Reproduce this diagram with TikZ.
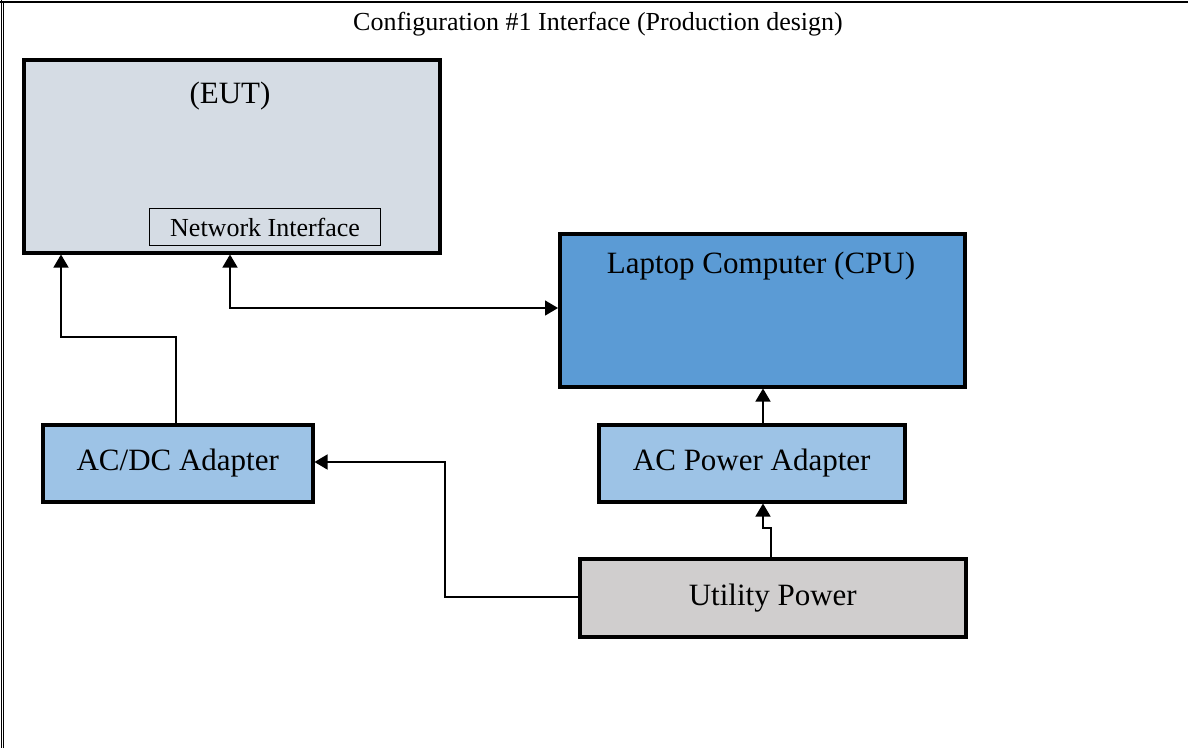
\documentclass[tikz,border=0pt]{standalone}
\usepackage{fontspec}
\setmainfont{Liberation Serif}
\usetikzlibrary{arrows.meta}
\definecolor{eutfill}{HTML}{D5DCE4}
\definecolor{cpufill}{HTML}{5B9BD5}
\definecolor{adfill}{HTML}{9DC3E6}
\definecolor{utfill}{HTML}{D0CECE}
\tikzset{
  blk/.style={draw=black, line width=3.5pt, inner sep=0pt},
  big/.style={font=\fontsize{31}{34}\selectfont},
  tip/.style={-{Triangle[length=13pt,width=15pt]}},
  conn/.style={draw=black, line width=1.4pt, tip},
}
\begin{document}
\begin{tikzpicture}[x=1pt,y=-1pt]
\useasboundingbox (0,0) rectangle (1188,748);
\fill[white] (0,0) rectangle (1188,748);
% outer frame
\draw[line width=2.5pt] (0,2) -- (1188,2);
\draw[line width=0.7pt] (1,0) -- (1,748);
\draw[line width=0.7pt] (3.5,2) -- (3.5,748);
\node[font=\fontsize{26}{28}\selectfont] (title) at (598,24) {Configuration \#1 Interface (Production design)};
% boxes
\node[blk, fill=eutfill, minimum width=416, minimum height=193, anchor=north west] (eut) at (22,58) {};
\node[big] (eutlabel) at (230,96) {(EUT)};
\node[draw=black, line width=1.2pt, fill=eutfill, minimum width=231, minimum height=37, anchor=north west, inner sep=0pt, font=\fontsize{26}{28}\selectfont] (ni) at (149,208) {Network Interface};
\node[blk, fill=cpufill, minimum width=405, minimum height=153, anchor=north west] (cpu) at (558,232) {};
\node[big] (cpulabel) at (761,266) {Laptop Computer (CPU)};
\node[blk, fill=adfill, minimum width=270, minimum height=77, anchor=north west, big] (acdc) at (41,423) {AC/DC Adapter};
\node[blk, fill=adfill, minimum width=306, minimum height=77, anchor=north west, big] (acp) at (597,423) {AC Power Adapter};
\node[blk, fill=utfill, minimum width=386, minimum height=78, anchor=north west, big] (ut) at (578,557) {Utility Power};
% connectors
\draw[conn] (acdc.north -| 176,0) |- (61,337) -- (eut.south -| 61,0);
\draw[conn, {Triangle[length=13pt,width=15pt]}-{Triangle[length=13pt,width=15pt]}] (eut.south -| 230,0) |- (cpu.west |- 0,308);
\draw[conn] (acp.north -| 763,0) -- (cpu.south -| 763,0);
\draw[conn] (ut.north -| 771,0) |- (763,528) -- (acp.south -| 763,0);
\draw[conn] (ut.west |- 0,597) -| (445,462) -- (acdc.east |- 0,462);
\end{tikzpicture}
\end{document}
